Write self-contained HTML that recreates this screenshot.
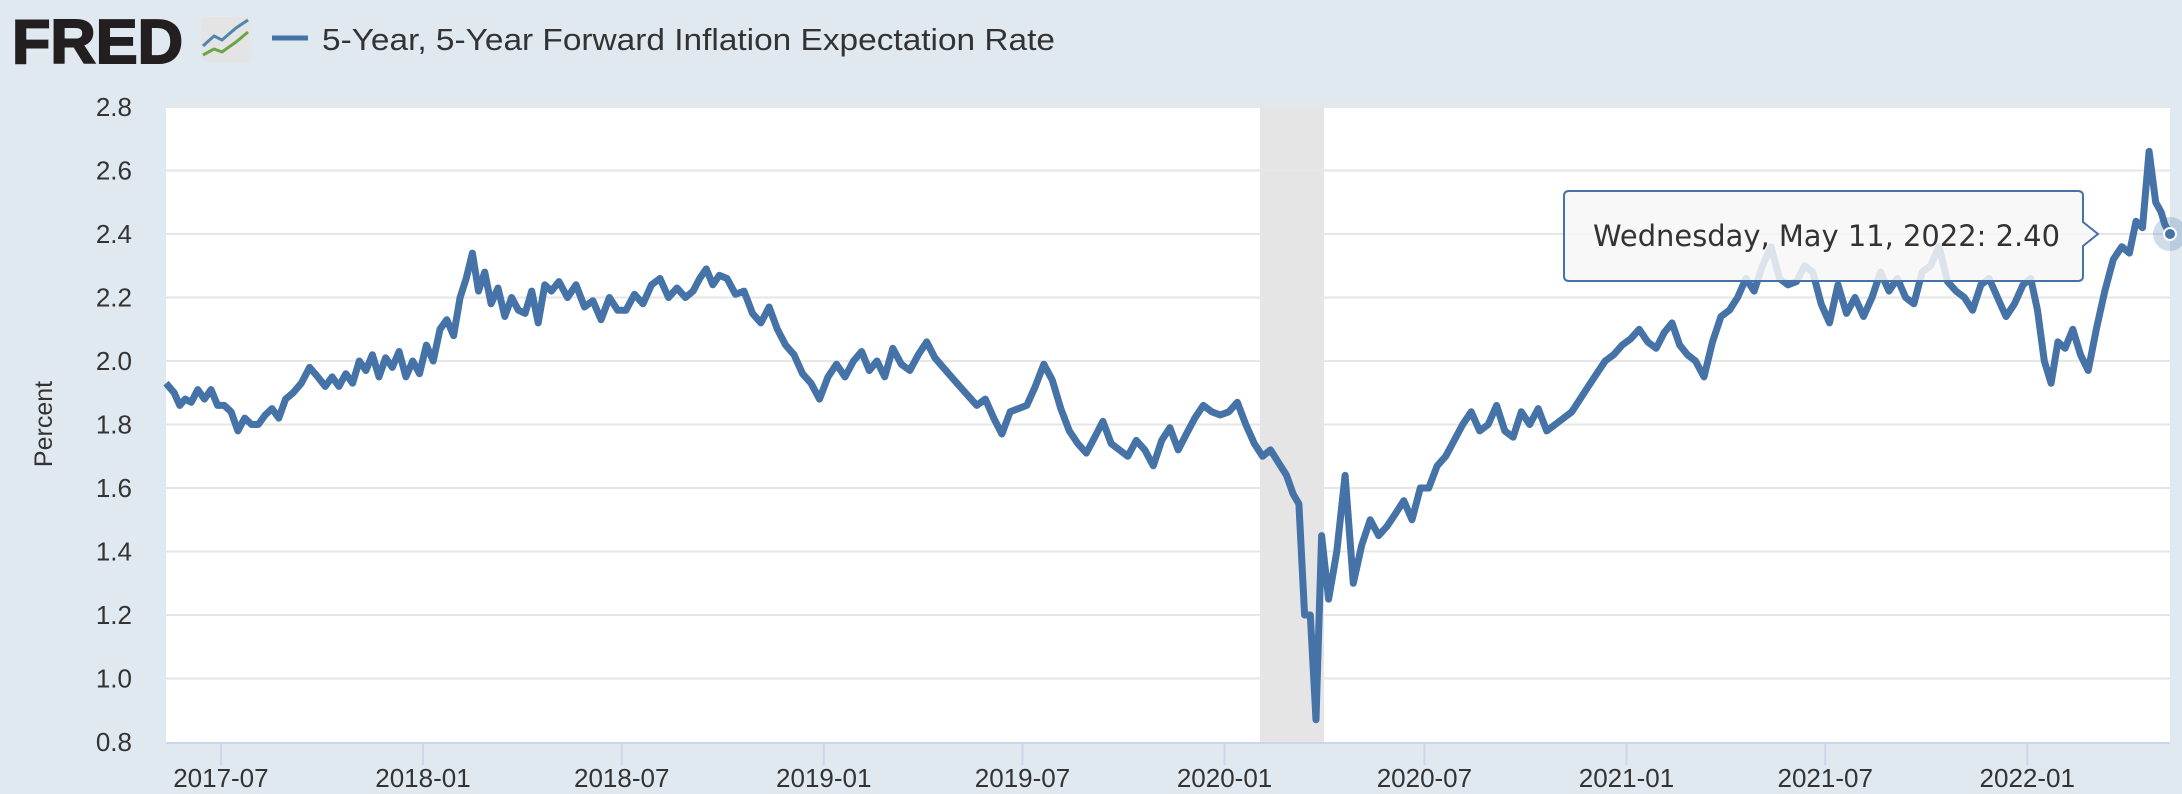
<!DOCTYPE html>
<html><head><meta charset="utf-8"><style>
html,body{margin:0;padding:0;background:#e1e9f0;}
svg{display:block;font-family:"Liberation Sans",sans-serif;}
</style></head><body>
<svg id="chart" width="2182" height="794" viewBox="0 0 2182 794">
<rect x="0" y="0" width="2182" height="794" fill="#e1e9f0"/>
<g>
<text x="12" y="63" font-size="62" font-weight="bold" fill="#231f20" textLength="171" lengthAdjust="spacingAndGlyphs" font-family="Liberation Sans Narrow, Liberation Sans, sans-serif" stroke="#231f20" stroke-width="2">FRED</text>
<rect x="201" y="17" width="49" height="45" rx="4" fill="#e4e4e4"/>
<polyline points="203,46 214,36 222,40 236,28 248,20" fill="none" stroke="#4e86b0" stroke-width="3"/>
<polyline points="203,55 214,49 222,52 236,42 248,32" fill="none" stroke="#6aa544" stroke-width="3"/>
</g>
<line x1="272" y1="38" x2="308" y2="38" stroke="#4572a7" stroke-width="5"/>
<text x="322" y="50" font-size="31" fill="#333" textLength="733" lengthAdjust="spacingAndGlyphs" font-family="Liberation Sans Narrow, Liberation Sans, sans-serif">5-Year, 5-Year Forward Inflation Expectation Rate</text>
<rect x="166" y="106" width="2004" height="636" fill="#fff"/>
<rect x="1260" y="106" width="64" height="636" fill="#e5e5e5"/>
<g id="grid"></g>
<g id="yaxis"></g>
<g id="xaxis"></g>
<text transform="translate(52,424) rotate(-90)" text-anchor="middle" font-size="25" fill="#333" font-family="Liberation Sans Narrow, Liberation Sans, sans-serif">Percent</text>
<path id="line" fill="none" stroke="#4572a7" stroke-width="7" stroke-linejoin="round"/>
<circle id="halo" r="17" fill="#4572a7" fill-opacity="0.25"/>
<circle id="pt" r="6" fill="#4572a7" stroke="#fff" stroke-width="2"/>
<g>
<path d="M1564,196 Q1564,191 1569,191 L2078,191 Q2083,191 2083,196 L2083,222 L2098,234 L2083,246 L2083,276 Q2083,281 2078,281 L1569,281 Q1564,281 1564,276 Z" fill="#f7f7f7" fill-opacity="0.85" stroke="#4572a7" stroke-width="2"/>
<text x="1593" y="246" font-size="29" fill="#333" font-family="DejaVu Sans, sans-serif" textLength="467" lengthAdjust="spacingAndGlyphs">Wednesday, May 11, 2022: 2.40</text>
</g>
</svg>
<script>
const months=["2017-05","2017-06","2017-07","2017-08","2017-09","2017-10","2017-11","2017-12","2018-01","2018-02","2018-03","2018-04","2018-05","2018-06","2018-07","2018-08","2018-09","2018-10","2018-11","2018-12","2019-01","2019-02","2019-03","2019-04","2019-05","2019-06","2019-07","2019-08","2019-09","2019-10","2019-11","2019-12","2020-01","2020-02","2020-03","2020-04","2020-05","2020-06","2020-07","2020-08","2020-09","2020-10","2020-11","2020-12","2021-01","2021-02","2021-03","2021-04","2021-05","2021-06","2021-07","2021-08","2021-09","2021-10","2021-11","2021-12","2022-01","2022-02","2022-03","2022-04","2022-05"];
const monthlyValues=[
[1.93,1.9,1.86,1.88],[1.87,1.91,1.88,1.91,1.86],[1.86,1.84,1.78,1.82,1.8],[1.8,1.83,1.85,1.82,1.88],[1.9,1.93,1.98,1.95],[1.92,1.95,1.92,1.96,1.93],[2.0,1.97,2.02,1.95,2.01],[1.98,2.03,1.95,2.0,1.96],
[2.05,2.0,2.1,2.13,2.08],[2.2,2.26,2.34,2.22,2.28],[2.18,2.23,2.14,2.2,2.16],[2.15,2.22,2.12,2.24,2.22],[2.25,2.2,2.24,2.17],[2.19,2.13,2.2,2.16],[2.16,2.21,2.18,2.24],[2.26,2.2,2.23,2.2],[2.22,2.26,2.29,2.24,2.27],[2.26,2.21,2.22,2.15],[2.12,2.17,2.1,2.05],[2.02,1.96,1.93,1.88],
[1.95,1.99,1.95,2.0],[2.03,1.97,2.0,1.95],[2.04,1.99,1.97,2.02],[2.06,2.01,1.98,1.95],[1.92,1.89,1.86,1.88],[1.82,1.77,1.84,1.85],[1.86,1.92,1.99,1.94],[1.85,1.78,1.74,1.71],[1.76,1.81,1.74,1.72],[1.7,1.75,1.72,1.67],[1.75,1.79,1.72,1.77],[1.82,1.86,1.84,1.83],
[1.84,1.87,1.8,1.74],[1.7,1.72,1.68,1.64],[1.58,1.55,1.2,1.2,0.87,1.45],[1.25,1.4,1.64,1.3],[1.42,1.5,1.45,1.48],[1.52,1.56,1.5,1.6],[1.6,1.67,1.7,1.75],[1.8,1.84,1.78,1.8],[1.86,1.78,1.76,1.84],[1.8,1.85,1.78,1.8],[1.82,1.84,1.88,1.92],[1.96,2.0,2.02,2.05],
[2.07,2.1,2.06,2.04],[2.09,2.12,2.05,2.02],[2.0,1.95,2.06,2.14],[2.16,2.2,2.26,2.22],[2.3,2.36,2.26,2.24],[2.25,2.3,2.28,2.18],[2.12,2.24,2.15,2.2],[2.14,2.2,2.28,2.22],[2.26,2.2,2.18,2.28],[2.3,2.36,2.25,2.22],[2.2,2.16,2.24,2.26],[2.2,2.14,2.18,2.24],
[2.26,2.16,2.0,1.93,2.06],[2.04,2.1,2.02,1.97],[2.1,2.22,2.32,2.36],[2.34,2.44,2.42,2.66,2.5],[2.47,2.43,2.4]];
const yTicks=["0.8","1.0","1.2","1.4","1.6","1.8","2.0","2.2","2.4","2.6","2.8"];
const xTicks=["2017-07","2018-01","2018-07","2019-01","2019-07","2020-01","2020-07","2021-01","2021-07","2022-01"];
const startDate="2017-05-12", endDate="2022-05-11";

const X0=166,X1=2170,Y0=742,Y1=107;
const t0=Date.parse(startDate),t1=Date.parse(endDate);
function xs(t){return X0+(t-t0)/(t1-t0)*(X1-X0);}
function ys(v){return Y0-(v-0.8)/2.0*(Y0-Y1);}
const NS="http://www.w3.org/2000/svg";
const FF="Liberation Sans Narrow, Liberation Sans, sans-serif";
const grid=document.getElementById('grid'),ya=document.getElementById('yaxis'),xa=document.getElementById('xaxis');
yTicks.forEach(s=>{const v=parseFloat(s),y=ys(v);
 if(v>0.8){const l=document.createElementNS(NS,'line');
 
 
 l.setAttribute('x1',X0);l.setAttribute('x2',X1);l.setAttribute('y1',y);l.setAttribute('y2',y);l.setAttribute('stroke','#e6e6e6');l.setAttribute('stroke-width','2');grid.appendChild(l);}
 const t=document.createElementNS(NS,'text');
 
 
 t.setAttribute('x',132);t.setAttribute('y',y+9);t.setAttribute('text-anchor','end');t.setAttribute('font-size','26');t.setAttribute('font-family',FF);t.setAttribute('fill','#333');t.textContent=s;ya.appendChild(t);});
const ax=document.createElementNS(NS,'line');


ax.setAttribute('x1',X0);ax.setAttribute('x2',X1);ax.setAttribute('y1',743);ax.setAttribute('y2',743);ax.setAttribute('stroke','#ccd6eb');ax.setAttribute('stroke-width','2');xa.appendChild(ax);
xTicks.forEach(s=>{const x=xs(Date.parse(s+"-01"));
 const l=document.createElementNS(NS,'line');
 
 
 l.setAttribute('x1',x);l.setAttribute('x2',x);l.setAttribute('y1',743);l.setAttribute('y2',765);l.setAttribute('stroke','#ccd6eb');l.setAttribute('stroke-width','2');xa.appendChild(l);
 const t=document.createElementNS(NS,'text');
 
 
 t.setAttribute('x',x);t.setAttribute('y',787);t.setAttribute('text-anchor','middle');t.setAttribute('font-size','26');t.setAttribute('font-family',FF);t.setAttribute('fill','#333');t.textContent=s;xa.appendChild(t);});
let d="",last=null;
months.forEach((m,i)=>{let a=Date.parse(m+"-01");const [yy,mm]=m.split('-').map(Number);
 let b=Date.UTC(mm===12?yy+1:yy,mm===12?0:mm,1);
 if(i===0)a=t0; if(i===months.length-1)b=t1+86400000*0.6;
 const vals=monthlyValues[i],n=vals.length;
 vals.forEach((v,k)=>{let t=(i===months.length-1&&k===n-1)?t1:a+(k+0.5)/n*(b-a);if(i===0&&k===0)t=t0;
  const x=xs(t),y=ys(v);d+=(d?"L":"M")+x.toFixed(1)+","+y.toFixed(1);last=[x,y];});});
document.getElementById('line').setAttribute('d',d);
['halo','pt'].forEach(id=>{const c=document.getElementById(id);c.setAttribute('cx',last[0]);c.setAttribute('cy',last[1]);});
</script>
</body></html>
